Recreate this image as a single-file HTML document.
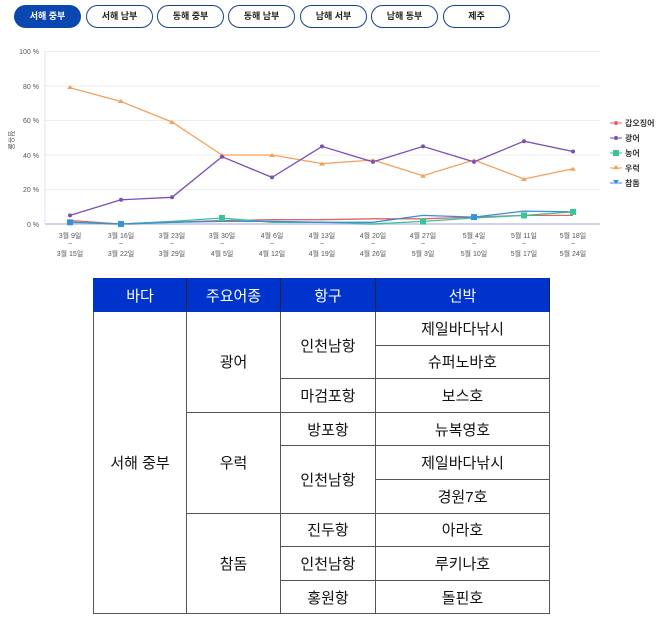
<!DOCTYPE html>
<html><head><meta charset="utf-8"><style>
body{margin:0;width:658px;height:637px;background:#fff;position:relative;overflow:hidden;font-family:"Liberation Sans","Noto Sans CJK KR",sans-serif}
.tab{position:absolute;top:5px;height:21px;width:65px;border:1px solid #1b3f8f;border-radius:12px;font-size:9px;font-weight:bold;text-align:center;line-height:21px;color:#222;background:#fff}
.tab.on{background:#0b47b0;color:#fff;border-color:#0b47b0}
table{position:absolute;left:93px;top:278px;width:456px;table-layout:fixed;border-collapse:collapse;font-size:15px}
td{border:1px solid #555;text-align:center;height:32.6px;padding:0;color:#111}
th{background:#0033cc;color:#fff;font-weight:normal;height:32px;border:1px solid #0033cc;border-right:1px solid #223;font-size:15px;padding:0}
</style></head><body>
<div class="tab on" style="left:14px">서해 중부</div>
<div class="tab" style="left:86px">서해 남부</div>
<div class="tab" style="left:157px">동해 중부</div>
<div class="tab" style="left:228px">동해 남부</div>
<div class="tab" style="left:300px">남해 서부</div>
<div class="tab" style="left:371px">남해 동부</div>
<div class="tab" style="left:443px">제주</div>
<svg width="658" height="270" style="position:absolute;left:0;top:0" font-family="Liberation Sans, Noto Sans CJK KR, sans-serif">
<g stroke="#eee" stroke-width="1">
<line x1="45" x2="600" y1="51.5" y2="51.5"/><line x1="45" x2="600" y1="86" y2="86"/><line x1="45" x2="600" y1="120.5" y2="120.5"/><line x1="45" x2="600" y1="155" y2="155"/><line x1="45" x2="600" y1="189.5" y2="189.5"/>
</g>
<line x1="45" x2="45" y1="51" y2="224" stroke="#dde3f0"/>
<line x1="45" x2="600" y1="224" y2="224" stroke="#cdd3ea" stroke-width="2"/>
<g font-size="7" fill="#555" text-anchor="end">
<text x="39" y="54">100 %</text><text x="39" y="89">80 %</text><text x="39" y="123">60 %</text><text x="39" y="158">40 %</text><text x="39" y="192">20 %</text><text x="39" y="227">0 %</text>
</g>
<text x="9" y="140" font-size="7" fill="#555" transform="rotate(90 9 140)" text-anchor="middle">점유율</text>
<g font-size="7" fill="#555" text-anchor="middle">
<text x="70" y="238">3월 9일</text><text x="70" y="246">~</text><text x="70" y="256">3월 15일</text>
<text x="121" y="238">3월 16일</text><text x="121" y="246">~</text><text x="121" y="256">3월 22일</text>
<text x="172" y="238">3월 23일</text><text x="172" y="246">~</text><text x="172" y="256">3월 29일</text>
<text x="222" y="238">3월 30일</text><text x="222" y="246">~</text><text x="222" y="256">4월 5일</text>
<text x="272" y="238">4월 6일</text><text x="272" y="246">~</text><text x="272" y="256">4월 12일</text>
<text x="322" y="238">4월 13일</text><text x="322" y="246">~</text><text x="322" y="256">4월 19일</text>
<text x="373" y="238">4월 20일</text><text x="373" y="246">~</text><text x="373" y="256">4월 26일</text>
<text x="423" y="238">4월 27일</text><text x="423" y="246">~</text><text x="423" y="256">5월 3일</text>
<text x="474" y="238">5월 4일</text><text x="474" y="246">~</text><text x="474" y="256">5월 10일</text>
<text x="524" y="238">5월 11일</text><text x="524" y="246">~</text><text x="524" y="256">5월 17일</text>
<text x="573" y="238">5월 18일</text><text x="573" y="246">~</text><text x="573" y="256">5월 24일</text>
</g>
<g fill="none" stroke-width="1.3">
<polyline stroke="#f5a05a" points="70,87.7 121,101.5 172,122 222,155 272,155 322,163.6 373,160 423,175.7 474,160 524,179 573,168.8"/>
<polyline stroke="#7b4fb5" points="70,215.4 121,199.8 172,197.3 222,156.7 272,177.4 322,146.4 373,161.9 423,146.4 474,161.9 524,141.2 573,151.5"/>
<polyline stroke="#e06464" points="70,220.5 121,224 172,222.3 222,220.5 272,219.7 322,219.7 373,218.8 423,218.8 474,217.1 524,215.4 573,215.4"/>
<polyline stroke="#3cc39a" points="70,222.3 121,224 172,221.4 222,218 272,222.3 322,222.3 373,224 423,221.4 474,218 524,215.4 573,211.9"/>
<polyline stroke="#3a8fd6" points="70,222.3 121,224 172,222.3 222,221.4 272,221.4 322,222.3 373,222.3 423,215.4 474,217.1 524,211.1 573,211.9"/>
</g>
<g fill="#f5a05a"><path d="M70,85l3,4h-6z M121,99l3,4h-6z M172,120l3,4h-6z M222,153l3,4h-6z M272,153l3,4h-6z M322,161.6l3,4h-6z M373,158l3,4h-6z M423,173.7l3,4h-6z M474,158l3,4h-6z M524,177l3,4h-6z M573,166.8l3,4h-6z"/></g>
<g fill="#7b4fb5"><circle cx="70" cy="215.4" r="2"/><circle cx="121" cy="199.8" r="2"/><circle cx="172" cy="197.3" r="2"/><circle cx="222" cy="156.7" r="2"/><circle cx="272" cy="177.4" r="2"/><circle cx="322" cy="146.4" r="2"/><circle cx="373" cy="161.9" r="2"/><circle cx="423" cy="146.4" r="2"/><circle cx="474" cy="161.9" r="2"/><circle cx="524" cy="141.2" r="2"/><circle cx="573" cy="151.5" r="2"/></g>
<g fill="#3cc39a"><rect x="219" y="215" width="6" height="6"/><rect x="521" y="212.4" width="6" height="6"/><rect x="570" y="208.9" width="6" height="6"/><rect x="420" y="218.4" width="6" height="6"/></g>
<g fill="#3a8fd6"><rect x="67" y="219.3" width="6" height="6"/><rect x="118" y="221" width="6" height="6"/><rect x="471" y="214.1" width="6" height="6"/></g>
<g font-size="8" font-weight="bold" fill="#333">
<line x1="610" x2="622" y1="123" y2="123" stroke="#e06464"/><circle cx="616" cy="123" r="2" fill="#e06464"/><text x="625" y="126">갑오징어</text>
<line x1="610" x2="622" y1="138" y2="138" stroke="#7b4fb5"/><circle cx="616" cy="138" r="2" fill="#7b4fb5"/><text x="625" y="141">광어</text>
<line x1="610" x2="622" y1="153" y2="153" stroke="#3cc39a"/><rect x="613" y="150" width="6" height="6" fill="#3cc39a"/><text x="625" y="156">농어</text>
<line x1="610" x2="622" y1="168" y2="168" stroke="#f5a05a"/><path d="M616,165l3,4h-6z" fill="#f5a05a"/><text x="625" y="171">우럭</text>
<line x1="610" x2="622" y1="183" y2="183" stroke="#3a8fd6"/><path d="M613,180h6l-3,4z" fill="#3a8fd6"/><text x="625" y="186">참돔</text>
</g>
</svg>
<table>
<colgroup><col style="width:93px"><col style="width:94px"><col style="width:95px"><col style="width:174px"></colgroup>
<tr><th>바다</th><th>주요어종</th><th>항구</th><th>선박</th></tr>
<tr><td rowspan="9">서해 중부</td><td rowspan="3">광어</td><td rowspan="2">인천남항</td><td>제일바다낚시</td></tr>
<tr><td>슈퍼노바호</td></tr>
<tr><td>마검포항</td><td>보스호</td></tr>
<tr><td rowspan="3">우럭</td><td>방포항</td><td>뉴복영호</td></tr>
<tr><td rowspan="2">인천남항</td><td>제일바다낚시</td></tr>
<tr><td>경원7호</td></tr>
<tr><td rowspan="3">참돔</td><td>진두항</td><td>아라호</td></tr>
<tr><td>인천남항</td><td>루키나호</td></tr>
<tr><td>홍원항</td><td>돌핀호</td></tr>
</table>
</body></html>
